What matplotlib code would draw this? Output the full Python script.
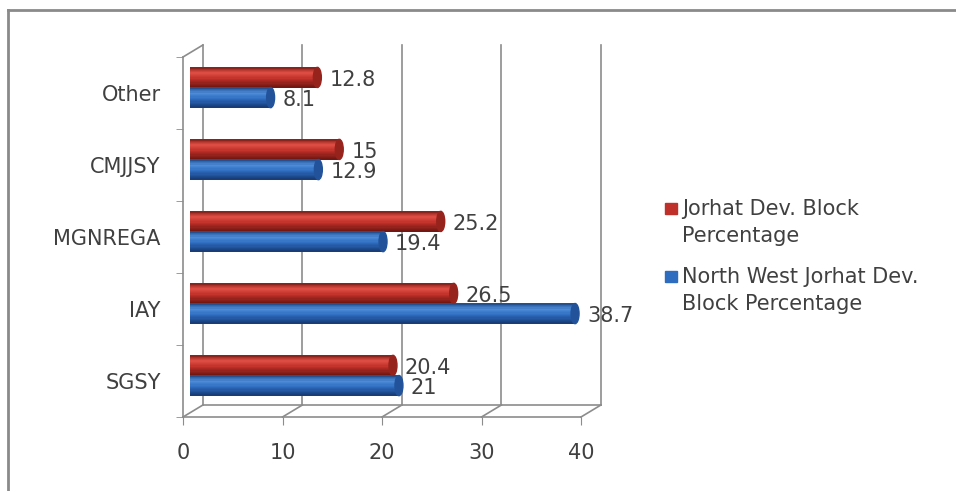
import numpy as np
import matplotlib
matplotlib.use('Agg')
import matplotlib.pyplot as plt
from matplotlib.patches import Ellipse, Rectangle
from matplotlib.lines import Line2D
from matplotlib.transforms import ScaledTranslation, blended_transform_factory
from matplotlib.colors import to_rgb

# data, bottom to top
categories = ['SGSY', 'IAY', 'MGNREGA', 'CMJJSY', 'Other']
jorhat = [20.4, 26.5, 25.2, 15, 12.8]
nw_jorhat = [21, 38.7, 19.4, 12.9, 8.1]
series_names = ['Jorhat Dev. Block\nPercentage', 'North West Jorhat Dev.\nBlock Percentage']
xticks = [0, 10, 20, 30, 40]

red = ('#c0302a', '#6e1510', '#dd4c42')
blue = ('#2e6cc0', '#163a74', '#4b8bd8')
grey = '#8c8c8c'
txt = '#404040'
fs = 15

plt.rcParams['font.family'] = 'DejaVu Sans'

fig = plt.figure(figsize=(9.56, 4.91), dpi=100)
ax = fig.add_axes([183/956, 74/491, 398/956, 360/491])
ax.set_xlim(0, 40)
ax.set_ylim(-0.5, len(categories) - 0.5)

# fake 3d depth: back wall shifted right/up
dx, dy = 2.0, 12/360
blend = blended_transform_factory(ax.transData, ax.transAxes)
for t in xticks:
    ax.add_line(Line2D([t + dx, t + dx], [dy, 1 + dy], transform=blend, color=grey, lw=1.2, clip_on=False, zorder=0))
    ax.add_line(Line2D([t, t + dx], [0, dy], transform=blend, color=grey, lw=1.2, clip_on=False, zorder=0))
ax.add_line(Line2D([dx, xticks[-1] + dx], [dy, dy], transform=blend, color=grey, lw=1.2, clip_on=False, zorder=0))
ax.add_line(Line2D([0, dx], [1, 1 + dy], transform=blend, color=grey, lw=1.2, clip_on=False, zorder=0))

bar_shift = ax.transData + ScaledTranslation(7/100, 5.5/100, fig.dpi_scale_trans)
h = 0.28
y = np.arange(len(categories))


def cylinder(ys, vals, cols):
    base, dark, light = [np.array(to_rgb(c)) for c in cols]
    n = 16
    for i in range(n):
        f = (i + 0.5) / n  # 0 = bottom, 1 = top
        if f < 0.72:
            w = f / 0.72
            c = dark + (base - dark) * min(1, w * 1.6) + (light - base) * max(0, w - 0.6) / 0.4
        else:
            w = (1 - f) / 0.28
            c = dark + (light - dark) * w ** 0.6
        ax.barh(ys - h/2 + i*h/n, vals, height=h/n*1.4, align='edge', color=np.clip(c, 0, 1),
                linewidth=0, transform=bar_shift, zorder=2)
    for yy, v in zip(ys, vals):
        ax.add_patch(Ellipse((v, yy), 0.8, h, transform=bar_shift, color=dark * 0.5 + base * 0.5, zorder=3))


cylinder(y + h/2, jorhat, red)
cylinder(y - h/2, nw_jorhat, blue)

for yy, v in zip(y, jorhat):
    ax.text(v + 1.2, yy + h/2 - 0.03, f'{v:g}', transform=bar_shift, va='center', ha='left',
            fontsize=fs, color=txt, zorder=1)
for yy, v in zip(y, nw_jorhat):
    ax.text(v + 1.2, yy - h/2 - 0.04, f'{v:g}', transform=bar_shift, va='center', ha='left',
            fontsize=fs, color=txt, zorder=4)

for s in ['top', 'right']:
    ax.spines[s].set_visible(False)
for s in ['left', 'bottom']:
    ax.spines[s].set_color(grey)
    ax.spines[s].set_linewidth(1.2)

ax.set_xticks(xticks)
ax.set_xticklabels([str(t) for t in xticks], fontsize=fs, color=txt)
ax.tick_params(axis='x', length=6, color=grey, pad=13)
ax.set_yticks(y)
ax.set_yticklabels(categories, fontsize=fs, color=txt)
ax.set_yticks(np.arange(-0.5, len(categories), 1), minor=True)
ax.tick_params(axis='y', which='major', length=0, pad=16)
ax.tick_params(axis='y', which='minor', length=5, color=grey)
ax.set_facecolor('none')

# legend
for i, (name, cols) in enumerate(zip(series_names, [red, blue])):
    ytop = 203 + i * 68
    fig.patches.append(Rectangle((665/956, (491 - ytop - 11)/491), 12/956, 11/491,
                                 transform=fig.transFigure, color=cols[0]))
    fig.text(682/956, (491 - ytop + 4)/491, name, va='top', ha='left', fontsize=fs,
             color=txt, linespacing=1.45)

# outer frame
fig.add_artist(Line2D([8/956, 8/956], [0, 481/491], transform=fig.transFigure, color='#8a8a8a', lw=2))
fig.add_artist(Line2D([8/956, 1], [481/491, 481/491], transform=fig.transFigure, color='#8a8a8a', lw=2))

fig.savefig('out.png', dpi=100)
